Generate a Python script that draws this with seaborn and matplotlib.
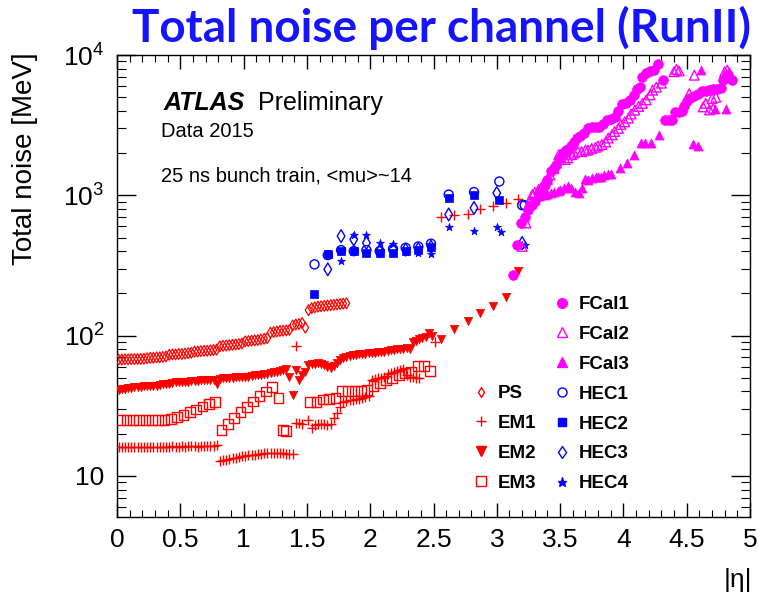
import numpy as np
import pandas as pd
import matplotlib
matplotlib.use("Agg")
import matplotlib.pyplot as plt
import seaborn as sns
from matplotlib.lines import Line2D
from matplotlib.ticker import FixedLocator, LogLocator, NullFormatter, MultipleLocator

# ---------------- data ----------------
ETA_B = [0.0125, 0.0375, 0.0625, 0.0875, 0.1125, 0.1375, 0.1625, 0.1875, 0.2125, 0.2375,
         0.2625, 0.2875, 0.3125, 0.3375, 0.3625, 0.3875, 0.4125, 0.4375, 0.4625, 0.4875,
         0.5125, 0.5375, 0.5625, 0.5875, 0.6125, 0.6375, 0.6625, 0.6875, 0.7125, 0.7375,
         0.7625, 0.7875, 0.8125, 0.8375, 0.8625, 0.8875, 0.9125, 0.9375, 0.9625, 0.9875,
         1.0125, 1.0375, 1.0625, 1.0875, 1.1125, 1.1375, 1.1625, 1.1875, 1.2125, 1.2375,
         1.2625, 1.2875, 1.3125, 1.3375, 1.3625, 1.3875, 1.4125, 1.4375, 1.4625, 1.4875]

PS_B = [67.5, 67.5, 67.8, 67.8, 68, 68, 68.2, 68.2, 68.5, 69,
        69.5, 69.5, 70, 70, 70.5, 71, 73, 73.5, 73.5, 74,
        74, 74.5, 75, 75.5, 77, 77, 77.5, 78, 78, 78.5,
        79, 79.5, 84, 84.5, 85, 85.5, 86, 86.5, 87, 88,
        91, 91.5, 92, 92.5, 93, 94, 95, 96, 105, 106,
        107, 108, 108.5, 109, 110, 118, 120, 121, 123, 114]
PS_E_ETA = [1.5125, 1.5375, 1.5625, 1.5875, 1.6125, 1.6375, 1.6625, 1.6875, 1.7125,
            1.7375, 1.7625, 1.7875, 1.8125]
PS_E = [152, 157, 159, 161, 162, 163, 164, 165, 166, 167, 168, 169, 170]

EM1_B = [16.0, 16.1, 16.0, 16.1, 16.1, 16.0, 16.1, 16.2, 16.1, 16.1, 16.2, 16.1, 16.2, 16.2,
         16.1, 16.2, 16.2, 16.3, 16.2, 16.2, 16.3, 16.2, 16.3, 16.3, 16.3, 16.2, 16.3, 16.4,
         16.3, 16.4, 16.4, 16.5,
         12.8, 13.0, 13.1, 13.3, 13.4, 13.5, 13.6, 13.8, 13.9, 14.0, 14.1, 14.2, 14.3, 14.4,
         14.5, 14.5, 14.5, 14.6, 14.5, 14.6, 14.5, 14.4, 14.4, 14.3]
EM1_E_ETA = [1.4125, 1.4125, 1.4375, 1.4625, 1.5125, 1.5375, 1.5625, 1.5875, 1.6125, 1.6375,
             1.6625, 1.6875, 1.7125, 1.7375, 1.7625, 1.7875, 1.8125, 1.8375, 1.8625, 1.8875,
             1.9125, 1.9375, 1.9625, 1.9875, 2.0125, 2.0375, 2.0625, 2.0875, 2.1125, 2.1375,
             2.1625, 2.1875, 2.2125, 2.2375, 2.2625, 2.2875, 2.3125, 2.3375, 2.3625, 2.3875,
             2.5125, 2.56, 2.665, 2.77, 2.87, 2.97, 3.075, 3.17]
EM1_E = [84, 24, 23.7, 23.5, 25, 21.8, 23, 23.5, 23.5, 23.3,
         23, 23.5, 26, 28, 31, 33.5, 34, 34.5, 35, 35.5,
         35.5, 36, 36.5, 37, 48, 49, 49.5, 50, 51, 53,
         54, 55, 56, 57, 58, 52, 51, 50.5, 50, 49.5,
         90, 700, 721, 742, 800, 845, 881, 948]

EM2_B = [41, 42, 42, 42.5, 42.5, 43, 43, 43, 43.5, 43.5,
         43.5, 44, 44, 44.5, 45, 45, 45.5, 46, 46.5, 46.5,
         47, 47, 47, 47.5, 47.5, 47.5, 48, 48, 48, 48,
         48, 45, 49, 49.5, 49.5, 50, 50, 50.5, 50.5, 50.5,
         51, 51, 51.5, 52, 52, 52.5, 53, 53, 54, 55,
         55.5, 56, 57, 57.5, 50.5, 37.5]
EM2_E_ETA = [1.4125, 1.4375, 1.4625, 1.4875, 1.5125, 1.5375, 1.5625, 1.5875, 1.6125, 1.6375,
             1.6625, 1.6875, 1.7125, 1.7375, 1.7625, 1.7875, 1.8125, 1.8375, 1.8625, 1.8875,
             1.9125, 1.9375, 1.9625, 1.9875, 2.0125, 2.0375, 2.0625, 2.0875, 2.1125, 2.1375,
             2.1625, 2.1875, 2.2125, 2.2375, 2.2625, 2.2875, 2.3125, 2.3375, 2.3625, 2.3875,
             2.4125, 2.4375, 2.4625, 2.4875, 2.56, 2.665, 2.77, 2.87, 2.97, 3.075, 3.17]
EM2_E = [57, 48, 52, 55, 62, 63, 63, 63.5, 63, 62,
         60, 59, 61, 64, 67, 69, 71, 72, 72.5, 73,
         73.5, 74, 74.5, 75, 75, 75.5, 76, 76.5, 77, 77.5,
         78.5, 79.5, 80, 80, 80.5, 81, 80, 90, 92, 94,
         96, 98, 104, 100, 95, 112, 127, 145, 163, 187, 290]

EM3_ETA = [0.025, 0.075, 0.125, 0.175, 0.225, 0.275, 0.325, 0.375, 0.425, 0.475,
           0.525, 0.575, 0.625, 0.675, 0.725, 0.775,
           0.825, 0.875, 0.925, 0.975, 1.025, 1.075, 1.125, 1.175, 1.225, 1.275,
           1.3125, 1.3375,
           1.525, 1.575, 1.625, 1.675, 1.725, 1.775, 1.825, 1.875, 1.925, 1.975,
           2.025, 2.075, 2.125, 2.175, 2.225, 2.275, 2.325, 2.375, 2.425, 2.475]
EM3 = [25, 25, 25, 25, 25, 25, 25, 25.2, 25.5, 26.3,
       27.3, 28.5, 29.8, 31.3, 32.5, 33.7,
       21.3, 23.5, 26, 28.5, 31, 34, 37, 40, 43, 36,
       21.2, 21,
       33.5, 33.5, 35, 35.5, 36, 40.5, 40.5, 40.5, 40.5, 41,
       44, 46, 48, 50, 52, 54, 55, 61, 61, 56]

HEC1_ETA = [1.56, 1.665, 1.77, 1.87, 1.97, 2.075, 2.18, 2.28, 2.38, 2.48, 2.62, 2.82, 3.02, 3.2, 3.22]
HEC1 = [322, 375, 407, 400, 407, 400, 415, 423, 432, 452, 1012, 1055, 1255, 850, 850]
HEC2_ETA = [1.56, 1.665, 1.77, 1.87, 1.97, 2.075, 2.18, 2.28, 2.38, 2.48, 2.62, 2.82, 3.02]
HEC2 = [198, 384, 400, 400, 390, 390, 390, 400, 405, 427, 955, 1012, 930]
HEC3_ETA = [1.665, 1.77, 1.87, 1.97, 2.075, 2.18, 2.28, 2.38, 2.48, 2.62, 2.82, 3.0, 3.2]
HEC3 = [297, 512, 485, 458, 400, 413, 410, 415, 430, 730, 813, 1038, 457]
HEC4_ETA = [1.77, 1.87, 1.97, 2.075, 2.18, 2.28, 2.38, 2.48, 2.62, 2.82, 3.0, 3.035, 3.22]
HEC4 = [340, 520, 525, 460, 450, 395, 390, 380, 596, 556, 590, 550, 440]

FCAL1_ETA = [3.13, 3.16, 3.19, 3.22, 3.25, 3.28, 3.30, 3.33, 3.35, 3.38, 3.40, 3.43, 3.45,
             3.47, 3.50, 3.52, 3.55, 3.57, 3.59, 3.61, 3.63, 3.66, 3.69, 3.72, 3.75, 3.78,
             3.81, 3.84, 3.87, 3.90, 3.93, 3.96, 3.99, 4.02, 4.05, 4.08, 4.11, 4.13, 4.15,
             4.18, 4.21, 4.24, 4.27, 4.31,
             4.33, 4.36, 4.38, 4.41, 4.44, 4.46, 4.48, 4.50, 4.53, 4.56, 4.59, 4.62, 4.65,
             4.68, 4.71, 4.74, 4.77, 4.79, 4.81, 4.83, 4.86]
FCAL1 = [271, 440, 630, 700, 790, 860, 910, 1000, 1070, 1180, 1290, 1480, 1560,
         1650, 1850, 2000, 2100, 2150, 2240, 2400, 2550, 2650, 2800, 3000, 3050, 3050,
         3080, 3200, 3450, 3500, 3630, 4000, 4500, 4550, 4800, 5200, 5700, 5900, 7000,
         7500, 7700, 7800, 8600, 6600,
         3440, 3440, 3440, 3900, 3950, 4000, 4300, 4700, 4950, 5100, 5300, 5500, 5550,
         5600, 5750, 5750, 5800, 6600, 7000, 7200, 6600]

FCAL2_ETA = [3.20, 3.23, 3.26, 3.28, 3.30, 3.33, 3.35, 3.37, 3.40, 3.42, 3.45, 3.47, 3.49,
             3.51, 3.54, 3.56, 3.59, 3.61, 3.64, 3.67, 3.70, 3.72, 3.75, 3.78, 3.80, 3.83,
             3.86, 3.88, 3.91, 3.93, 3.96, 3.98, 4.01, 4.04, 4.06, 4.09, 4.12, 4.15, 4.18,
             4.21, 4.23, 4.26, 4.30, 4.40, 4.42, 4.44, 4.52, 4.56, 4.63, 4.65, 4.68, 4.70,
             4.71, 4.73, 4.80, 4.82, 4.84]
FCAL2 = [433, 636, 900, 1010, 1050, 1100, 1130, 1200, 1300, 1400, 1550, 1700, 1950,
         1850, 1800, 1850, 1950, 2000, 2050, 2050, 2100, 2100, 2160, 2200, 2250, 2300,
         2400, 2560, 2700, 2850, 3000, 3200, 3340, 3550, 3800, 4050, 4300, 4520, 4790,
         5200, 5620, 5900, 6300, 7600, 7900, 7700, 5300, 7180, 4270, 4520, 4060, 4900,
         4170, 5000, 7600, 7800, 7400]

FCAL3_ETA = [3.25, 3.28, 3.30, 3.33, 3.35, 3.38, 3.40, 3.43, 3.45, 3.48, 3.50, 3.53, 3.56,
             3.59, 3.62, 3.65, 3.67, 3.70, 3.72, 3.75, 3.78, 3.80, 3.82, 3.85, 3.88, 3.90,
             3.97, 4.03, 4.08, 4.14, 4.17, 4.22, 4.28, 4.55, 4.59, 4.61, 4.72, 4.81]
FCAL3 = [860, 900, 930, 985, 1000, 1010, 1030, 1040, 1060, 1070, 1090, 1120, 1160,
         1130, 1060, 1040, 1130, 1300, 1280, 1320, 1340, 1360, 1360, 1400, 1410, 1410,
         1560, 1690, 1940, 2350, 2350, 2350, 2690, 2340, 2240, 7800, 4150, 4150]

RED = "#ff0000"
MAG = "#ff00ff"
BLUE = "#0000ff"

# ---------------- figure ----------------
sns.set_theme(style="white")
plt.rcParams["font.family"] = ["Liberation Sans", "DejaVu Sans"]
plt.rcParams["mathtext.fontset"] = "custom"
plt.rcParams["mathtext.rm"] = "Liberation Sans"
plt.rcParams["mathtext.it"] = "Liberation Sans:italic"
for k in ("text.color", "axes.labelcolor", "xtick.color", "ytick.color", "axes.edgecolor"):
    plt.rcParams[k] = "black"

fig = plt.figure(figsize=(7.58, 5.98), dpi=100)
W, H = 758, 598
L, R, T, B = 117, 750, 55, 517
ax = fig.add_axes([L / W, 1 - B / H, (R - L) / W, (B - T) / H])

def draw(x, y, marker, ms, color, filled=True, lw=1.0, z=3):
    if filled:
        sns.scatterplot(x=x, y=y, ax=ax, marker=marker, s=ms ** 2, color=color,
                        edgecolor=color, linewidth=lw * 0.5, zorder=z)
    elif marker in ("+", "x"):
        sns.scatterplot(x=x, y=y, ax=ax, marker=marker, s=ms ** 2, color=color,
                        edgecolor=color, linewidth=lw, zorder=z)
    else:
        sns.scatterplot(x=x, y=y, ax=ax, marker=marker, s=ms ** 2, color=color,
                        facecolor="none", edgecolor=color, linewidth=lw, zorder=z)

draw(ETA_B, PS_B, "d", 5.5, RED, filled=False, lw=0.9)
draw(PS_E_ETA, PS_E, "d", 5.5, RED, filled=False, lw=0.9)
draw(ETA_B[:56], EM1_B, "+", 6.5, RED, filled=False, lw=1.0)
draw(EM1_E_ETA, EM1_E, "+", 6.5, RED, filled=False, lw=1.0)
draw(ETA_B[:56], EM2_B, "v", 6.0, RED)
draw(EM2_E_ETA, EM2_E, "v", 6.0, RED)
draw(EM3_ETA, EM3, "s", 7.0, RED, filled=False, lw=1.0)
draw(HEC1_ETA, HEC1, "o", 6.5, BLUE, filled=False, lw=1.0)
draw(HEC2_ETA, HEC2, "s", 5.5, BLUE)
draw(HEC3_ETA, HEC3, "d", 6.5, BLUE, filled=False, lw=1.0)
draw(HEC4_ETA, HEC4, "*", 6.0, BLUE)
draw(FCAL3_ETA, FCAL3, "^", 6.5, MAG)
draw(FCAL2_ETA, FCAL2, "^", 7.0, MAG, filled=False, lw=1.0)
draw(FCAL1_ETA, FCAL1, "o", 7.0, MAG)

ax.set_yscale("log")
ax.set_xlim(0, 5)
ax.set_ylim(5.1, 1.0e4)
ax.set_xlabel("")
ax.set_ylabel("")

ax.xaxis.set_minor_locator(MultipleLocator(0.1))
ax.set_xticks([0, 0.5, 1, 1.5, 2, 2.5, 3, 3.5, 4, 4.5, 5])
ax.set_xticklabels(["0", "0.5", "1", "1.5", "2", "2.5", "3", "3.5", "4", "4.5", "5"])
ax.yaxis.set_major_locator(FixedLocator([10, 100, 1000, 10000]))
ax.set_yticklabels(["10", "$10^{2}$", "$10^{3}$", "$10^{4}$"])
ax.yaxis.set_minor_locator(LogLocator(base=10, subs=[2, 3, 4, 5, 6, 7, 8, 9], numticks=20))
ax.yaxis.set_minor_formatter(NullFormatter())

for s in ax.spines.values():
    s.set_color("black")
    s.set_linewidth(1.0)
ax.tick_params(axis="x", which="major", direction="in", length=10, width=1.0,
               top=True, bottom=True, labelsize=19, pad=8, colors="black")
ax.tick_params(axis="x", which="minor", direction="in", length=5, width=0.8,
               top=True, bottom=True, colors="black")
ax.tick_params(axis="y", which="major", direction="in", length=13.5, width=1.0,
               left=True, right=True, labelsize=19, pad=9, colors="black")
ax.tick_params(axis="y", which="minor", direction="in", length=6.8, width=0.8,
               left=True, right=True, colors="black")
ax.grid(False)

# texts
fig.text(25 / W, 1 - 52 / H, "Total noise [MeV]", rotation=90, ha="center", va="top",
         fontsize=20, color="black")
fig.text(752 / W, 1 - 580 / H, "|η|", ha="right", va="center", fontsize=19, color="black")
fig.text(442 / W, 1 - 42 / H, "Total noise per channel (RunII)", ha="center",
         va="baseline", fontsize=33, fontweight="bold", color="#1414ff",
         family=["Lato", "DejaVu Sans"])
fig.text(164 / W, 1 - 110 / H, "ATLAS", fontsize=18, fontweight="bold", style="italic",
         ha="left", va="baseline", color="black")
fig.text(258 / W, 1 - 110 / H, "Preliminary", fontsize=18, ha="left", va="baseline",
         color="black")
fig.text(161 / W, 1 - 137 / H, "Data 2015", fontsize=14.5, ha="left", va="baseline",
         color="black")
fig.text(161 / W, 1 - 181 / H, "25 ns bunch train, <mu>~14", fontsize=14.5,
         ha="left", va="baseline", color="black")

# legends
def h(marker, ms, color, filled=True):
    if filled:
        return Line2D([], [], ls="none", marker=marker, markersize=ms, color=color,
                      markeredgecolor=color)
    return Line2D([], [], ls="none", marker=marker, markersize=ms, color=color,
                  markerfacecolor="none", markeredgecolor=color, markeredgewidth=1.0)

LEG_KW = dict(loc="upper left", frameon=False, borderpad=0, borderaxespad=0,
              handlelength=1.0, handletextpad=0.35, labelspacing=0.68,
              prop={"size": 13.5, "weight": "bold"}, labelcolor="black")
leg_r = ax.legend(
    [h("o", 7, MAG), h("^", 7, MAG, False), h("^", 6.5, MAG), h("o", 6.5, BLUE, False),
     h("s", 6, BLUE), h("d", 6.5, BLUE, False), h("*", 6.5, BLUE)],
    ["FCal1", "FCal2", "FCal3", "HEC1", "HEC2", "HEC3", "HEC4"],
    bbox_to_anchor=((553 - L) / (R - L), (B - 296) / (B - T)), **LEG_KW)
ax.add_artist(leg_r)
ax.legend(
    [h("d", 5.5, RED, False), h("+", 7, RED, False), h("v", 6.5, RED), h("s", 7, RED, False)],
    ["PS", "EM1", "EM2", "EM3"],
    bbox_to_anchor=((472 - L) / (R - L), (B - 385) / (B - T)), **LEG_KW)

fig.savefig("out.png", dpi=100, facecolor="white")
